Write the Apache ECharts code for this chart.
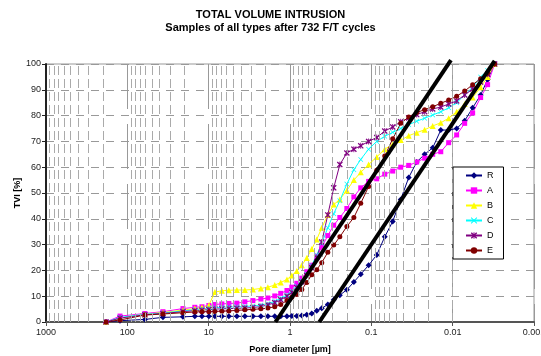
<!DOCTYPE html>
<html>
<head>
<meta charset="utf-8">
<script src="https://cdn.jsdelivr.net/npm/echarts@6/dist/echarts.min.js"></script>
<style>
html, body { margin: 0; padding: 0; background: #fff; }
#chart { width: 541px; height: 356px; }
</style>
</head>
<body>
<div id="chart"></div>
<script>
// pore diameters [um], shared by all samples
var diameters = [183, 123, 60.8, 36.5, 20.7, 14.8, 12.1, 9.94, 8.39, 6.88,
    5.65, 4.50, 3.59, 2.86, 2.28, 1.87, 1.54, 1.30, 1.09, 0.950,
    0.825, 0.716, 0.622, 0.540, 0.469, 0.407, 0.343, 0.290, 0.244, 0.200,
    0.164, 0.135, 0.108, 0.0858, 0.0684, 0.0546, 0.0435, 0.0347, 0.0277, 0.0221,
    0.0176, 0.0140, 0.0112, 0.00893, 0.00712, 0.00568, 0.00453, 0.00372, 0.00305];

// TVI [%]
var tviR = [0, 0.5, 1.0, 1.8, 2.0, 2.2, 2.2, 2.2, 2.2, 2.2,
    2.2, 2.2, 2.2, 2.2, 2.2, 2.2, 2.2, 2.2, 2.2, 2.3,
    2.3, 2.5, 2.8, 3.3, 4.4, 5.3, 6.8, 8.6, 10.4, 12.5,
    15.5, 18.5, 22, 26, 33, 39, 47.5, 56, 62, 65,
    67.5, 74.4, 74.4, 75, 78, 83, 88, 94, 100];
var tviA = [0, 2.3, 3.3, 4.0, 5.2, 5.7, 5.9, 6.4, 6.8, 7.0,
    7.2, 7.3, 7.8, 8.3, 8.9, 9.3, 10.1, 11.1, 12.2, 13.5,
    15, 17, 19.5, 22, 25.5, 29, 33.5, 37.5, 40.5, 44,
    48.5, 52, 54.5, 55.5, 57.3, 58.5, 60, 60.7, 62, 63.5,
    65, 66, 69.5, 72.5, 77, 81, 87, 92, 100];
var tviB = [0, 1.5, 3.0, 3.7, 4.6, 5.2, 5.6, 6.5, 11.6, 12.1,
    12.3, 12.4, 12.4, 12.6, 13, 13.5, 14.3, 15.3, 16.5, 18,
    19.8, 22, 24.8, 28.3, 32, 36.5, 41.5, 45.5, 47.5, 51,
    55, 58, 61, 64, 67, 68.8, 70.5, 72.2, 73.4, 74.5,
    76, 77.2, 79, 81.5, 84.5, 87, 91, 95, 100];
var tviC = [0, 1.8, 3.0, 3.5, 4.3, 4.8, 5.1, 5.4, 5.6, 5.7,
    5.8, 5.9, 6.0, 6.2, 6.6, 7.1, 8.0, 9.2, 10.5, 12,
    14, 16, 18.5, 22, 26, 30.5, 36.5, 42, 47, 53.5,
    59, 63, 67, 70, 72, 73.5, 75, 76.5, 77.8, 79,
    80.2, 81.5, 83, 85, 88, 91, 95, 97.5, 100];
var tviD = [0, 1.5, 2.8, 3.3, 4.0, 4.4, 4.6, 4.8, 5.0, 5.1,
    5.2, 5.3, 5.4, 5.6, 6.0, 6.6, 7.5, 8.6, 10, 11.5,
    13.3, 15.5, 18, 21, 25, 31, 41.5, 52, 61, 65.5,
    67, 68.3, 70, 71.5, 74, 75.6, 77.6, 79.1, 80.4, 81.5,
    82.6, 83.3, 84.5, 85.7, 88, 90.3, 93, 96, 100];
var tviE = [0, 0.8, 2.7, 3.1, 3.6, 3.9, 4.0, 4.0, 4.1, 4.2,
    4.3, 4.5, 4.7, 4.9, 5.1, 5.4, 5.9, 6.8, 8.3, 9.6,
    10.7, 12.6, 15.3, 18.3, 20.3, 23, 27, 29.8, 33, 37,
    40.5, 46, 52.5, 58.8, 64.3, 71, 77, 79.5, 81.2, 82.3,
    83.4, 84.8, 86, 87.5, 89.5, 92, 94.3, 96.5, 100];

// the two straight black lines
var tangent1 = [[1.51, 0], [0.0105, 101.5]];
var tangent2 = [[0.436, 0], [0.00305, 101.2]];

var xTickLabels = ['0.001', '0.01', '0.1', '1', '10', '100', '1000'];

// minor (2..9 x 10^k) vertical grid positions
var minorGrid = [];
for (var k = -3; k < 3; k++) {
    for (var m = 2; m <= 9; m++) {
        minorGrid.push({xAxis: m * Math.pow(10, k)});
    }
}

function pairs(vals) {
    var out = [];
    for (var i = 0; i < diameters.length; i++) {
        out.push([diameters[i], vals[i]]);
    }
    return out;
}

var xMark = 'path://M0,1L1,0L5,4L9,0L10,1L6,5L10,9L9,10L5,6L1,10L0,9L4,5Z';
var starMark = 'path://M0,1.5L1.5,0L4.3,2.8L4.3,0L5.7,0L5.7,2.8L8.5,0L10,1.5L6.4,5L10,8.5L8.5,10L5.7,7.2L5.7,10L4.3,10L4.3,7.2L1.5,10L0,8.5L3.6,5Z';

function curve(name, vals, color, symbol, size) {
    return {
        name: name,
        type: 'line',
        data: pairs(vals),
        symbol: symbol,
        symbolSize: size,
        z: 3,
        lineStyle: {color: color, width: 1},
        itemStyle: {color: color},
        animation: false
    };
}

var chart = echarts.init(document.getElementById('chart'));
var font = 'Liberation Sans, Arial, sans-serif';

var option = {
    backgroundColor: '#fff',
    textStyle: {fontFamily: font},
    title: {
        text: 'TOTAL VOLUME INTRUSION',
        subtext: 'Samples of all types after 732 F/T cycles',
        left: 'center',
        top: 4,
        itemGap: 2,
        textStyle: {fontSize: 11, fontWeight: 'bold', color: '#000', fontFamily: font},
        subtextStyle: {fontSize: 11, fontWeight: 'bold', color: '#000', fontFamily: font}
    },
    legend: {
        data: ['R', 'A', 'B', 'C', 'D', 'E'],
        orient: 'vertical',
        left: 453,
        top: 167,
        padding: [4, 10, 4, 12],
        itemGap: 6,
        itemWidth: 16,
        itemHeight: 8,
        borderColor: '#000',
        borderWidth: 1,
        backgroundColor: '#fff',
        textStyle: {fontSize: 9, color: '#000', fontFamily: font}
    },
    grid: {
        left: 46,
        right: 7,
        top: 64,
        bottom: 34,
        containLabel: false,
        outerBoundsMode: 'none',
        show: true,
        borderColor: '#999',
        borderWidth: 1
    },
    xAxis: {
        type: 'log',
        logBase: 10,
        min: 0.001,
        max: 1000,
        splitNumber: 6,
        inverse: true,
        name: 'Pore diameter [µm]',
        nameLocation: 'middle',
        nameGap: 23,
        nameMoveOverlap: false,
        nameTextStyle: {fontSize: 9, fontWeight: 'bold', color: '#000', fontFamily: font},
        axisLine: {lineStyle: {color: '#555', width: 2}},
        axisTick: {show: true, length: 4, lineStyle: {color: '#555'}},
        axisLabel: {
            fontSize: 9,
            color: '#222',
            margin: 6,
            formatter: function (v) {
                var e = Math.round(Math.log(v) / Math.LN10);
                return xTickLabels[e + 3];
            }
        },
        splitLine: {show: true, lineStyle: {color: '#999', type: [45, 15], width: 1}}
    },
    yAxis: {
        type: 'value',
        min: 0,
        max: 100,
        interval: 10,
        name: 'TVI [%]',
        nameLocation: 'middle',
        nameGap: 24,
        nameMoveOverlap: false,
        nameTextStyle: {fontSize: 9, fontWeight: 'bold', color: '#000', fontFamily: font},
        axisLine: {show: true, lineStyle: {color: '#222', width: 2}},
        axisTick: {show: true, length: 4, lineStyle: {color: '#222'}},
        axisLabel: {fontSize: 9, color: '#222', margin: 5},
        splitLine: {show: true, lineStyle: {color: '#999', type: [8, 7], width: 1}}
    },
    series: [
        {
            name: 'grid',
            type: 'line',
            data: [],
            z: 1,
            silent: true,
            animation: false,
            markLine: {
                silent: true,
                symbol: 'none',
                animation: false,
                label: {show: false},
                lineStyle: {color: '#aaa', type: [9, 4], width: 1},
                data: minorGrid
            }
        },
        curve('R', tviR, '#000080', 'diamond', 6),
        curve('A', tviA, '#ff00ff', 'rect', 5),
        curve('B', tviB, '#ffff00', 'triangle', 6),
        curve('C', tviC, '#00ffff', xMark, 5),
        curve('D', tviD, '#800080', starMark, 6),
        curve('E', tviE, '#800000', 'circle', 5),
        {
            name: 'tangent1',
            type: 'line',
            data: tangent1,
            symbol: 'none',
            clip: false,
            z: 5,
            lineStyle: {color: '#000', width: 4},
            animation: false
        },
        {
            name: 'tangent2',
            type: 'line',
            data: tangent2,
            symbol: 'none',
            clip: false,
            z: 5,
            lineStyle: {color: '#000', width: 4},
            animation: false
        }
    ]
};

chart.setOption(option);
</script>
</body>
</html>
